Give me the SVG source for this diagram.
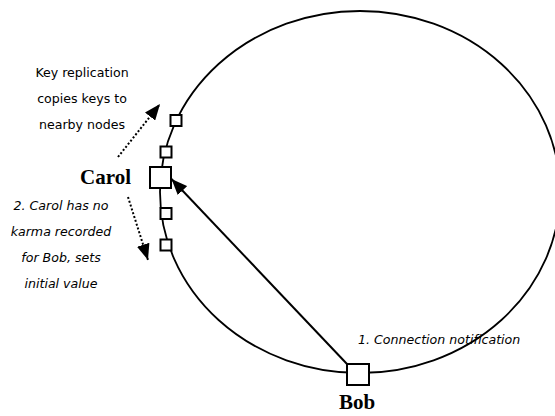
<svg xmlns="http://www.w3.org/2000/svg" width="555" height="416" viewBox="0 0 555 416">
  <style>
    .ring { fill: none; stroke: #000; stroke-width: 1.8; }
    .node { fill: #fff; stroke: #000; stroke-width: 2; }
    .name { font-family: "Liberation Serif", "Times New Roman", serif; font-weight: bold; font-size: 21px; fill: #000; }
    .note { font-family: "DejaVu Sans", Verdana, sans-serif; font-size: 12.6px; fill: #000; }
    .it { font-style: italic; }
    .solid { stroke: #000; stroke-width: 2; fill: none; }
    .dots { stroke: #000; stroke-width: 2; stroke-dasharray: 2 2; fill: none; }
  </style>
  <defs>
    <marker id="head" markerUnits="userSpaceOnUse" markerWidth="17" markerHeight="13" refX="16" refY="6.5" orient="auto">
      <path d="M0,0 L16,6.5 L0,13 z" fill="#000"/>
    </marker>
  </defs>

  <rect width="555" height="416" fill="#fff"/>

  <!-- DHT ring -->
  <ellipse class="ring" cx="360" cy="192" rx="200" ry="181"/>

  <!-- connectors -->
  <g id="connectors">
    <line class="solid" x1="347" y1="364" x2="171.5" y2="179" marker-end="url(#head)"/>
    <line class="dots" x1="118" y1="157" x2="160" y2="104" marker-end="url(#head)"/>
    <line class="dots" x1="128" y1="197" x2="148" y2="260" marker-end="url(#head)"/>
  </g>

  <!-- neighbouring nodes -->
  <g id="n1"><rect class="node" x="170.5" y="115" width="11" height="11"/></g>
  <g id="n2"><rect class="node" x="160.5" y="146.5" width="11" height="11"/></g>
  <g id="n4"><rect class="node" x="160.5" y="208" width="11" height="11"/></g>
  <g id="n5"><rect class="node" x="160.5" y="239.5" width="11" height="11"/></g>

  <!-- Carol -->
  <g id="carol">
    <rect class="node" x="150" y="167" width="21" height="21"/>
    <text class="name" x="131" y="184" text-anchor="end">Carol</text>
  </g>

  <!-- Bob -->
  <g id="bob">
    <rect class="node" x="347" y="364" width="22" height="21"/>
    <text class="name" x="357" y="409" text-anchor="middle">Bob</text>
  </g>

  <!-- annotations -->
  <g id="note-replication">
    <text class="note" x="82" y="77" text-anchor="middle">Key replication</text>
    <text class="note" x="82" y="103" text-anchor="middle">copies keys to</text>
    <text class="note" x="82" y="129" text-anchor="middle">nearby nodes</text>
  </g>
  <g id="note-karma">
    <text class="note it" x="61" y="210" text-anchor="middle">2. Carol has no</text>
    <text class="note it" x="61" y="236" text-anchor="middle">karma recorded</text>
    <text class="note it" x="61" y="262" text-anchor="middle">for Bob, sets</text>
    <text class="note it" x="61" y="288" text-anchor="middle">initial value</text>
  </g>
  <g id="note-connection">
    <text class="note it" x="358" y="344">1. Connection notification</text>
  </g>
</svg>
